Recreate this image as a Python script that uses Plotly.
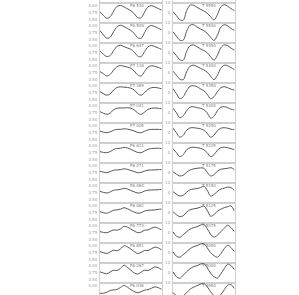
import plotly.graph_objects as go

# ---- data ----
x_index = list(range(19))

left_labels = ["P6 530", "P6 509", "P6 647", "P7 118", "P7 389", "P7 041", "P7 005", "P6 611",
               "P6 271", "P6 084", "P6 062", "P6 773", "P6 851", "P6 267", "P6 036"]
right_labels = ["T 5550", "T 5500", "T 5450", "T 5400", "T 5350", "T 5300", "T 5250", "T 5225",
                "T 5175", "T 5150", "T 5125", "T 5075", "T 5050", "T 5000", "T 4950"]

left_values = [
    [3.80, 3.66, 3.56, 3.62, 3.82, 3.99, 4.02, 3.97, 3.90, 3.83, 3.72, 3.58, 3.58, 3.78, 3.97, 4.01, 3.97, 3.91, 3.85],
    [3.83, 3.68, 3.56, 3.60, 3.80, 3.98, 4.03, 3.98, 3.91, 3.84, 3.73, 3.58, 3.56, 3.76, 3.96, 4.02, 3.98, 3.92, 3.86],
    [3.82, 3.70, 3.62, 3.66, 3.84, 3.99, 4.03, 3.98, 3.93, 3.88, 3.78, 3.64, 3.62, 3.80, 3.97, 4.02, 3.98, 3.93, 3.88],
    [3.80, 3.72, 3.64, 3.70, 3.86, 3.98, 4.02, 3.99, 3.96, 3.92, 3.82, 3.68, 3.64, 3.80, 3.96, 4.01, 3.99, 3.95, 3.90],
    [3.80, 3.72, 3.67, 3.72, 3.86, 3.95, 3.97, 3.96, 3.95, 3.92, 3.86, 3.72, 3.67, 3.76, 3.88, 3.94, 3.95, 3.93, 3.90],
    [3.80, 3.74, 3.70, 3.75, 3.87, 3.92, 3.93, 3.93, 3.94, 3.92, 3.86, 3.75, 3.70, 3.78, 3.88, 3.92, 3.93, 3.92, 3.90],
    [3.82, 3.78, 3.76, 3.79, 3.85, 3.88, 3.88, 3.90, 3.89, 3.86, 3.82, 3.77, 3.76, 3.81, 3.86, 3.88, 3.88, 3.88, 3.87],
    [3.80, 3.77, 3.76, 3.80, 3.88, 3.91, 3.92, 3.95, 3.93, 3.88, 3.82, 3.77, 3.76, 3.82, 3.88, 3.91, 3.92, 3.92, 3.91],
    [3.81, 3.78, 3.76, 3.80, 3.85, 3.86, 3.87, 3.90, 3.88, 3.84, 3.80, 3.76, 3.77, 3.82, 3.85, 3.86, 3.86, 3.87, 3.87],
    [3.81, 3.77, 3.75, 3.79, 3.85, 3.86, 3.88, 3.92, 3.89, 3.84, 3.79, 3.75, 3.76, 3.82, 3.85, 3.86, 3.86, 3.87, 3.88],
    [3.80, 3.76, 3.74, 3.79, 3.85, 3.86, 3.89, 3.94, 3.90, 3.84, 3.78, 3.74, 3.76, 3.82, 3.85, 3.85, 3.86, 3.88, 3.89],
    [3.80, 3.77, 3.76, 3.81, 3.86, 3.85, 3.90, 3.99, 3.96, 3.89, 3.82, 3.76, 3.78, 3.85, 3.86, 3.92, 3.96, 3.92, 3.86],
    [3.80, 3.76, 3.73, 3.79, 3.85, 3.83, 3.90, 4.01, 3.97, 3.89, 3.80, 3.73, 3.77, 3.84, 3.84, 3.90, 3.96, 3.93, 3.86],
    [3.79, 3.75, 3.72, 3.79, 3.85, 3.84, 3.92, 4.03, 3.95, 3.85, 3.75, 3.71, 3.78, 3.85, 3.84, 3.90, 3.97, 3.94, 3.87],
    [3.74, 3.74, 3.78, 3.84, 3.86, 3.88, 3.95, 4.02, 3.96, 3.87, 3.80, 3.76, 3.80, 3.85, 3.87, 3.92, 3.97, 3.94, 3.88],
]

right_values = [
    [1, -3, -7, -7.5, 2, 7.5, 7.5, 5.4, 3.5, 1.8, -0.5, -4, -7.3, -2, 6, 8, 6.5, 4, 2],
    [1, -3.5, -7.5, -7.5, 1.5, 7.5, 8, 5.8, 3.8, 2, -0.5, -4.5, -7.8, -2.5, 5.5, 8, 6.8, 4.2, 2.2],
    [1, -3, -7, -7.5, 1.5, 7, 7.8, 6, 4, 2.2, 0, -4, -7.5, -2.5, 5, 7.8, 7, 4.5, 2.5],
    [1.5, -2.5, -6.5, -7, 1, 6.5, 7.5, 6.2, 4.5, 2.8, 0.5, -3.5, -7, -2.5, 4.5, 7.5, 7, 5, 3],
    [4, -1, -6, -4, 2, 6.5, 7, 6, 4, 2, -1.5, -6, -4, 1, 5, 6, 5, 3.5, 2.5],
    [4.5, 0, -5, -3, 2, 5.5, 6, 5, 4.5, 3, 0, -5.5, -3.5, 2, 5.5, 6, 5, 3.5, 2.7],
    [4.5, 0, -4.5, -2.5, 2.5, 4.8, 5, 4.5, 4, 2.5, -0.5, -4.5, -2.5, 2, 4.5, 5, 4.5, 3.5, 3],
    [4, 0, -4, -2, 3, 5, 5.5, 5, 4.5, 3, 0, -4, -2, 2.5, 5, 5.5, 5, 4, 3],
    [1, -1.5, -3.3, -2.5, 0.5, 2.7, 3.8, 4.4, 4.8, 4.5, 0.5, -3.3, -2, 1.5, 3.4, 4, 4.4, 5, 3],
    [1, -1.5, -3.3, -2.5, 0.5, 3, 3.6, 4.2, 5, 6.5, 2.5, -3.3, -2, 1.5, 3.5, 4.5, 5.6, 5, 2],
    [1, -2, -4, -3, 0.5, 3, 3.8, 4.4, 5.5, 6.7, 2.5, -3.5, -2, 1.5, 3.5, 5, 6, 6.7, 1.5],
    [1, -3.5, -4.5, -2, 1, 3.5, 5, 6, 7.5, 8.5, 4, -1.5, -4.5, -2.5, 1, 4.5, 7.5, 5, 1],
    [1, -3.5, -4.5, -2, 1, 4, 6, 7, 8.5, 9.2, 5, 0, -3, -4.5, -1, 4, 7.5, 5, 1],
    [1, -4, -5.5, -2.5, 1, 4, 6, 7, 8.5, 9.4, 5, -0.5, -4, -5.5, -1, 4, 8.5, 7, 3],
    [0, -3, -5, -3, 0, 3.5, 5.5, 7, 8.5, 9.4, 6, 1, -3, -5, -2, 3, 7.5, 8, 4],
]

left_ticks = [3.50, 3.75, 4.00]
right_ticks = [0, 10]

# ---- layout geometry (pixels) ----
W, H = 299, 295
first_top = 2.7
row_h = 20.0
left_x = (100, 161.7)
right_x = (173, 234.5)
left_top_val, left_per_px = 4.12, 0.72 / 20
right_top_val, right_per_px = 10.0, 20.0 / 20

fig = go.Figure()
layout = dict(
    width=W, height=H, margin=dict(l=0, r=0, t=0, b=0, autoexpand=False),
    paper_bgcolor="white", plot_bgcolor="white", showlegend=False,
    font=dict(family="DejaVu Sans", size=4, color="#888"),
)

line_col = "#cfcfcf"
curve_col = "#555555"
n = len(left_labels)
annotations = []


def axis_names(k):
    if k == 1:
        return "xaxis", "yaxis", "x", "y"
    return f"xaxis{k}", f"yaxis{k}", f"x{k}", f"y{k}"


k = 0
# partially visible panel row above the first full row (only its bottom edge shows)
for c, (xd, tv_bottom, fmt) in enumerate([(left_x, 3.40, ".2f"), (right_x, -10.0, "d")]):
    k += 1
    xa, ya, xr, yr = axis_names(k)
    ppx = left_per_px if c == 0 else right_per_px
    fig.add_trace(go.Scatter(x=[], y=[], xaxis=xr, yaxis=yr, mode="lines", hoverinfo="skip"))
    layout[xa] = dict(domain=[xd[0] / W, xd[1] / W], range=[0, 18], anchor=yr,
                      showticklabels=False, ticks="", showgrid=False, zeroline=False,
                      showline=True, mirror=True, linecolor=line_col, linewidth=1, automargin=False)
    layout[ya] = dict(domain=[1 - first_top / H, 1],
                      range=[tv_bottom, tv_bottom + first_top * ppx + (0.004 if c == 0 else 0.15)],
                      anchor=xr, tickvals=[3.50] if c == 0 else [],
                      tickformat=fmt, ticks="", showgrid=False, zeroline=False, showline=True,
                      mirror=True, linecolor=line_col, linewidth=1,
                      tickfont=dict(size=4, color="#999"), ticklabelstandoff=1, automargin=False)

for i in range(n):
    top = first_top + row_h * i
    bot = min(top + row_h, H)
    ydom = [max(0.0, 1 - bot / H), 1 - top / H]
    for c, (xd, vals, labs, tv, ppx, ticks, fmt) in enumerate([
        (left_x, left_values, left_labels, left_top_val, left_per_px, left_ticks, ".2f"),
        (right_x, right_values, right_labels, right_top_val, right_per_px, right_ticks, "d"),
    ]):
        k += 1
        xa, ya, xr, yr = axis_names(k)
        fig.add_trace(go.Scatter(
            x=x_index, y=vals[i], xaxis=xr, yaxis=yr, mode="lines",
            line=dict(color=curve_col, width=1, shape="spline", smoothing=0.9),
            hoverinfo="skip"))
        layout[xa] = dict(domain=[xd[0] / W, xd[1] / W], range=[0, 18], anchor=yr,
                          showticklabels=False, ticks="", showgrid=False, zeroline=False,
                          showline=True, mirror=True, linecolor=line_col, linewidth=1,
                          automargin=False)
        layout[ya] = dict(domain=ydom, range=[tv - (bot - top) * ppx, tv], anchor=xr,
                          tickvals=ticks, tickformat=fmt, ticks="", showgrid=False,
                          zeroline=False, showline=True, mirror=True, linecolor=line_col,
                          linewidth=1, tickfont=dict(size=4, color="#999"), ticklabelstandoff=1,
                          automargin=False)
        annotations.append(dict(
            xref="paper", yref="paper",
            x=(xd[0] + (37 if c == 0 else 35)) / W, y=1 - (top + 3.2) / H,
            text=labs[i], showarrow=False, xanchor="center", yanchor="middle",
            font=dict(size=4, color="#777")))

layout["annotations"] = annotations
fig.update_layout(**layout)
fig.write_html("out.html", config={"displayModeBar": False, "staticPlot": True},
               post_script="document.body.style.margin='0';document.body.style.overflow='hidden';")
